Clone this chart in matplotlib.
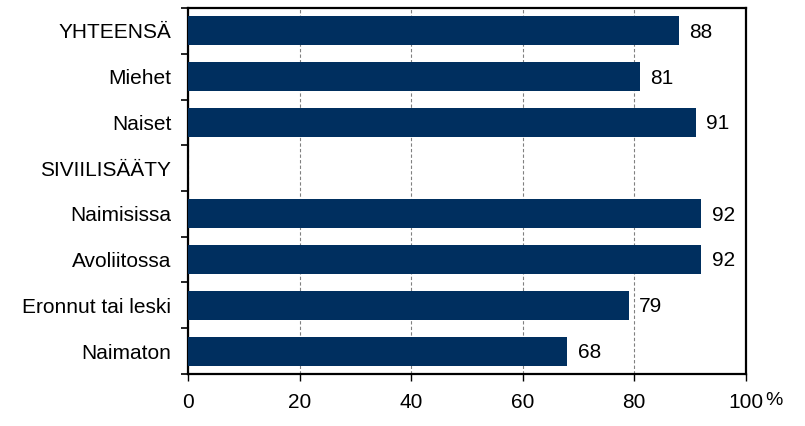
import matplotlib
matplotlib.use('Agg')
import matplotlib.pyplot as plt
import numpy as np

categories = ['YHTEENSÄ', 'Miehet', 'Naiset', 'SIVIILISÄÄTY',
              'Naimisissa', 'Avoliitossa', 'Eronnut tai leski', 'Naimaton']
values = [88, 81, 91, np.nan, 92, 92, 79, 68]
xticks = [0, 20, 40, 60, 80, 100]

plt.rcParams['font.family'] = ['Liberation Sans', 'DejaVu Sans']
fs = 15

fig = plt.figure(figsize=(8.05, 4.26), dpi=100)
ax = fig.add_axes([0.2335, 0.1221, 0.693, 0.8591])

ypos = np.arange(len(categories))
vals = np.nan_to_num(values)
ax.barh(ypos, vals, height=0.63, color='#002f5f', zorder=3)
for y, v in zip(ypos, values):
    if not np.isnan(v):
        ax.text(v + 1.9, y + 0.03, '%d' % v, va='center', ha='left', fontsize=fs)

ax.set_xlim(0, 100)
ax.set_ylim(len(categories) - 0.5, -0.5)
ax.set_xticks(xticks)
ax.set_xticklabels(['0', '20', '40', '60', '80', '100'], fontsize=fs)
ax.text(1.034, -0.086, '%', transform=ax.transAxes, fontsize=14,
        ha='left', va='baseline')

# category labels without ticks, ticks at boundaries
ax.set_yticks(ypos)
ax.set_yticklabels(categories, fontsize=fs)
ax.tick_params(axis='y', which='major', length=0, pad=12)
ax.set_yticks(np.arange(-0.5, len(categories) + 0.5, 1), minor=True)
ax.tick_params(axis='y', which='minor', length=5, width=1.2)
ax.tick_params(axis='x', length=5, width=1, pad=9)

ax.grid(axis='x', linestyle=(0, (3, 2)), color='#808080', linewidth=0.8, zorder=0)
for s in ax.spines.values():
    s.set_linewidth(1.6)

plt.savefig('out.png', dpi=100)
